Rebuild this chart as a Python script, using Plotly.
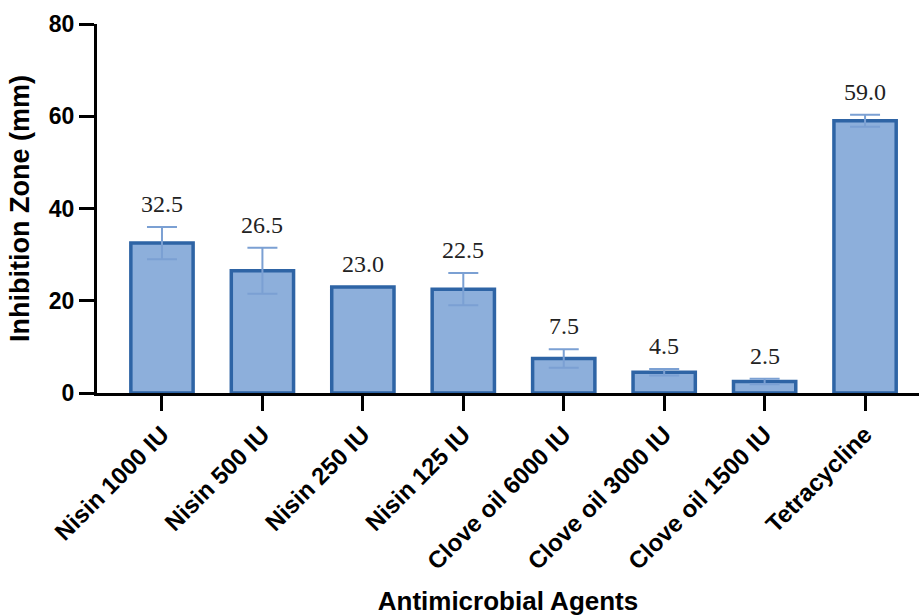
import plotly.graph_objects as go

# Inhibition zone diameters (mm), mean and error per antimicrobial agent
agents = [
    "Nisin 1000 IU", "Nisin 500 IU", "Nisin 250 IU", "Nisin 125 IU",
    "Clove oil 6000 IU", "Clove oil 3000 IU", "Clove oil 1500 IU", "Tetracycline",
]
zone_mean = [32.5, 26.5, 23.0, 22.5, 7.5, 4.5, 2.5, 59.0]
zone_err = [3.5, 5.0, 0.0, 3.5, 2.0, 0.7, 0.6, 1.3]
y_ticks = [0, 20, 40, 60, 80]

FILL = "#8DAFDB"
EDGE = "#2E64A5"
ERR = "#7BA0D3"
SANS = "Liberation Sans, Arial, sans-serif"
SERIF = "Liberation Serif, Times New Roman, serif"

x_idx = list(range(len(agents)))

fig = go.Figure()
fig.add_trace(go.Bar(
    x=x_idx,
    y=zone_mean,
    width=0.62,
    marker=dict(color=FILL, line=dict(color=EDGE, width=3.5)),
    hoverinfo="skip",
))

# error bars only where a spread was measured
err_x = [i for i, e in zip(x_idx, zone_err) if e > 0]
err_y = [m for m, e in zip(zone_mean, zone_err) if e > 0]
err_v = [e for e in zone_err if e > 0]
fig.add_trace(go.Scatter(
    x=err_x, y=err_y, mode="markers",
    marker=dict(size=0.1, color="rgba(0,0,0,0)"),
    error_y=dict(type="data", array=err_v, visible=True,
                 color=ERR, thickness=2, width=15),
    hoverinfo="skip",
))

# value labels above each bar / error bar
for i, (m, e) in enumerate(zip(zone_mean, zone_err)):
    fig.add_annotation(
        x=i, y=m + e, xref="x", yref="y",
        text=f"{m:.1f}", showarrow=False,
        yanchor="middle", yshift=23,
        font=dict(family=SERIF, size=24, color="#222222"),
    )

fig.update_layout(
    width=919, height=616,
    margin=dict(l=97, r=0, t=24, b=223),
    plot_bgcolor="white", paper_bgcolor="white",
    showlegend=False,
)

fig.update_xaxes(
    range=[-0.647, 7.537],
    tickmode="array", tickvals=x_idx, ticktext=agents,
    tickangle=-45,
    tickfont=dict(family=SANS, size=24, color="black", weight="bold"),
    showline=True, linecolor="black", linewidth=3,
    ticks="outside", ticklen=15, tickwidth=3, tickcolor="black",
    showgrid=False, zeroline=False,
    title=dict(text="Antimicrobial Agents", standoff=22,
               font=dict(family=SANS, size=26, color="black", weight="bold")),
)

fig.update_yaxes(
    range=[0, 80],
    tickmode="array", tickvals=y_ticks, ticktext=[str(t) for t in y_ticks],
    tickfont=dict(family=SANS, size=23, color="black", weight="bold"),
    showline=True, linecolor="black", linewidth=3,
    ticks="outside", ticklen=15, tickwidth=3, tickcolor="black",
    showgrid=False, zeroline=False,
    title=dict(text="Inhibition Zone (mm)", standoff=12,
               font=dict(family=SANS, size=27, color="black", weight="bold")),
)

fig.write_html("out.html")
